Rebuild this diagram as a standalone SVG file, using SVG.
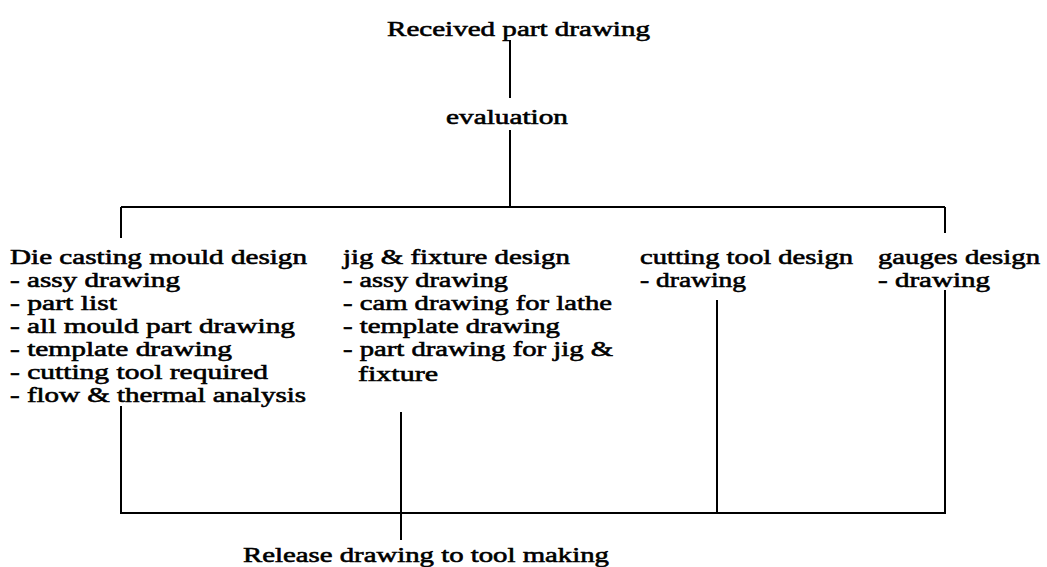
<svg xmlns="http://www.w3.org/2000/svg" width="1047" height="567" viewBox="0 0 1047 567">
<style>
text{font-family:"Liberation Serif","Times New Roman",serif;font-size:22px;fill:#000;stroke:#000;stroke-width:0.6;}
.c{stroke:#000;stroke-width:2;fill:none;}
</style>
<rect width="1047" height="567" fill="#fff"/>
<g id="connectors">
<path class="c" d="M510,40V98M510,130V207M121,207H945M121,207V238M945,207V233"/>
<path class="c" d="M121,406V513H945V290M717,300V513M401,412V540"/>
</g>
<g id="received"><text x="387" y="36" textLength="263" lengthAdjust="spacingAndGlyphs">Received part drawing</text></g>
<g id="evaluation"><text x="446" y="124" textLength="122" lengthAdjust="spacingAndGlyphs">evaluation</text></g>
<g id="die-casting">
<text x="10" y="264" textLength="297" lengthAdjust="spacingAndGlyphs">Die casting mould design</text>
<text x="10" y="287" textLength="170" lengthAdjust="spacingAndGlyphs">- assy drawing</text>
<text x="10" y="310" textLength="107" lengthAdjust="spacingAndGlyphs">- part list</text>
<text x="10" y="333" textLength="285" lengthAdjust="spacingAndGlyphs">- all mould part drawing</text>
<text x="10" y="356" textLength="222" lengthAdjust="spacingAndGlyphs">- template drawing</text>
<text x="10" y="379" textLength="258" lengthAdjust="spacingAndGlyphs">- cutting tool required</text>
<text x="10" y="402" textLength="296" lengthAdjust="spacingAndGlyphs">- flow &amp; thermal analysis</text>
</g>
<g id="jig-fixture">
<text x="343" y="264" textLength="227" lengthAdjust="spacingAndGlyphs">jig &amp; fixture design</text>
<text x="343" y="287" textLength="165" lengthAdjust="spacingAndGlyphs">- assy drawing</text>
<text x="343" y="310" textLength="269" lengthAdjust="spacingAndGlyphs">- cam drawing for lathe</text>
<text x="343" y="333" textLength="217" lengthAdjust="spacingAndGlyphs">- template drawing</text>
<text x="343" y="356" textLength="270" lengthAdjust="spacingAndGlyphs">- part drawing for jig &amp;</text>
<text x="358" y="381" textLength="80" lengthAdjust="spacingAndGlyphs">fixture</text>
</g>
<g id="cutting-tool">
<text x="640" y="264" textLength="213" lengthAdjust="spacingAndGlyphs">cutting tool design</text>
<text x="640" y="287" textLength="106" lengthAdjust="spacingAndGlyphs">- drawing</text>
</g>
<g id="gauges">
<text x="878" y="264" textLength="162" lengthAdjust="spacingAndGlyphs">gauges design</text>
<text x="878" y="287" textLength="112" lengthAdjust="spacingAndGlyphs">- drawing</text>
</g>
<g id="release"><text x="243" y="562" textLength="366" lengthAdjust="spacingAndGlyphs">Release drawing to tool making</text></g>
</svg>
